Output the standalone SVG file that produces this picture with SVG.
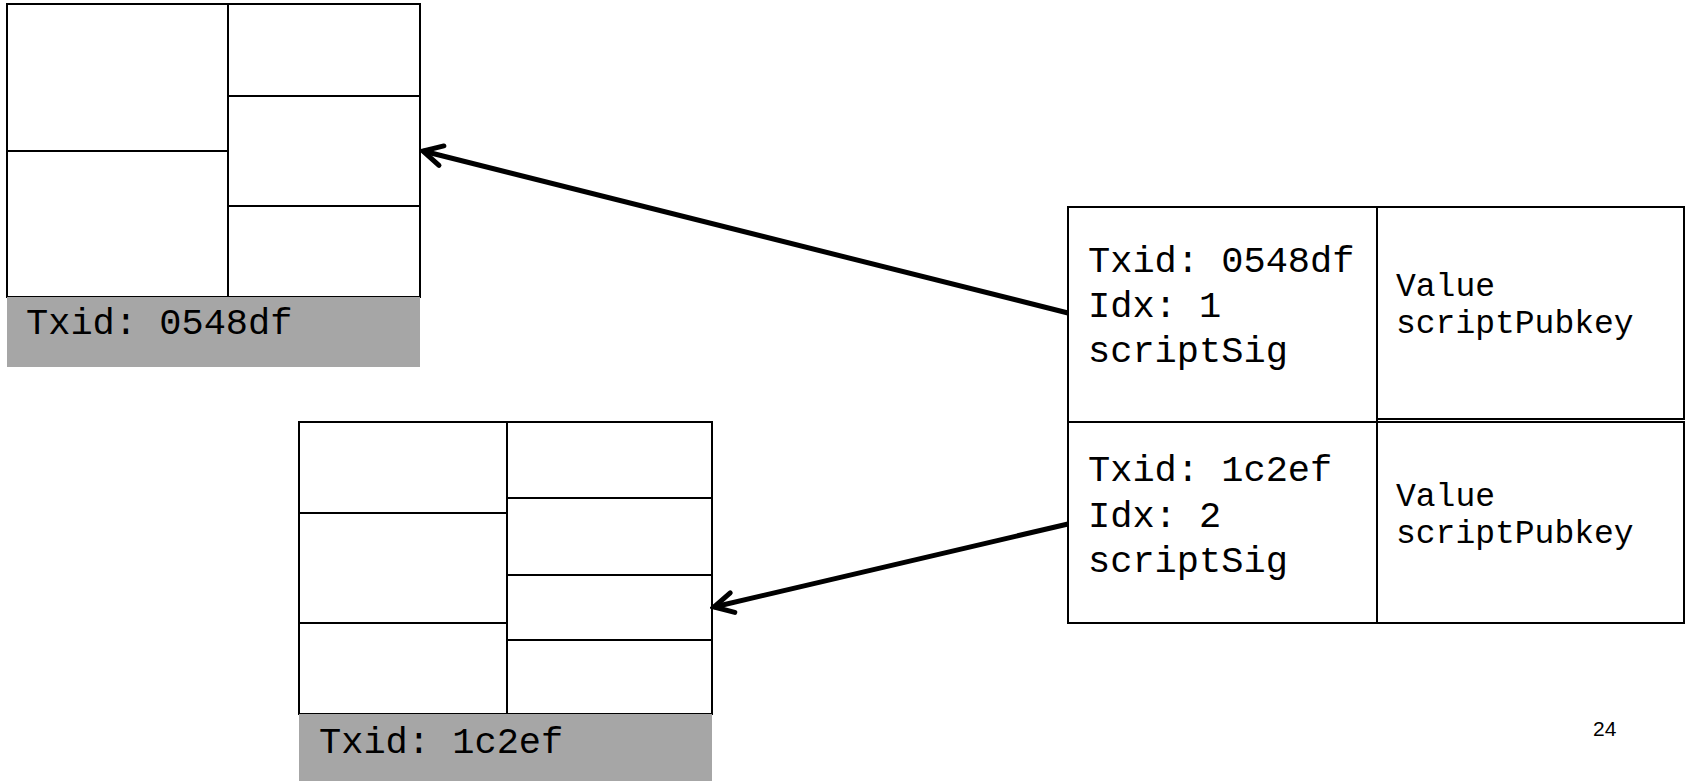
<svg xmlns="http://www.w3.org/2000/svg" width="1688" height="781" viewBox="0 0 1688 781">
  <style>
    .cell { fill: #ffffff; stroke: #000000; stroke-width: 2; }
    .rule { stroke: #000000; stroke-width: 2; fill: none; }
    .band { fill: #a6a6a6; stroke: none; }
    .mono { font-family: "Liberation Mono", "Courier New", monospace; fill: #000000; }
    .big { font-size: 37px; }
    .small { font-size: 33px; }
    .page { font-family: "Liberation Sans", Arial, sans-serif; font-size: 21px; fill: #000000; }
    .link { stroke: #000000; stroke-width: 5; fill: none; }
  </style>
  <defs>
    <marker id="open-arrow" markerUnits="userSpaceOnUse" viewBox="-26 -16 30 32" markerWidth="30" markerHeight="32" refX="0" refY="0" orient="auto">
      <path d="M-19,-10 L0,0 L-19,10" fill="none" stroke="#000000" stroke-width="5" stroke-linejoin="miter" stroke-linecap="round"/>
    </marker>
  </defs>

  <rect width="1688" height="781" fill="#ffffff"/>

  <!-- Transaction 0548df (upper left) -->
  <g id="tx-0548df">
    <rect class="cell" x="7" y="4" width="413" height="293"/>
    <line class="rule" x1="228" y1="4" x2="228" y2="297"/>
    <line class="rule" x1="7" y1="151" x2="228" y2="151"/>
    <line class="rule" x1="228" y1="96" x2="420" y2="96"/>
    <line class="rule" x1="228" y1="206" x2="420" y2="206"/>
    <rect class="band" x="7" y="297" width="413" height="70"/>
    <text class="mono big" x="26" y="334">Txid: 0548df</text>
  </g>

  <!-- Transaction 1c2ef (lower left) -->
  <g id="tx-1c2ef">
    <rect class="cell" x="299" y="422" width="413" height="292"/>
    <line class="rule" x1="507" y1="422" x2="507" y2="714"/>
    <line class="rule" x1="299" y1="513" x2="507" y2="513"/>
    <line class="rule" x1="299" y1="623" x2="507" y2="623"/>
    <line class="rule" x1="507" y1="498" x2="712" y2="498"/>
    <line class="rule" x1="507" y1="575" x2="712" y2="575"/>
    <line class="rule" x1="507" y1="640" x2="712" y2="640"/>
    <rect class="band" x="299" y="714" width="413" height="67"/>
    <text class="mono big" x="319" y="753">Txid: 1c2ef</text>
  </g>

  <!-- Spending transaction: inputs and outputs -->
  <g id="tx-spend">
    <g id="input-1">
      <rect class="cell" x="1068" y="207" width="309" height="215"/>
      <text class="mono big" x="1088" y="272">Txid: 0548df</text>
      <text class="mono big" x="1088" y="317">Idx: 1</text>
      <text class="mono big" x="1088" y="362">scriptSig</text>
    </g>
    <g id="output-1">
      <rect class="cell" x="1377" y="207" width="307" height="212"/>
      <text class="mono small" x="1396" y="296">Value</text>
      <text class="mono small" x="1396" y="333">scriptPubkey</text>
    </g>
    <g id="input-2">
      <rect class="cell" x="1068" y="422" width="309" height="201"/>
      <text class="mono big" x="1088" y="481">Txid: 1c2ef</text>
      <text class="mono big" x="1088" y="527">Idx: 2</text>
      <text class="mono big" x="1088" y="572">scriptSig</text>
    </g>
    <g id="output-2">
      <rect class="cell" x="1377" y="422" width="307" height="201"/>
      <text class="mono small" x="1396" y="506">Value</text>
      <text class="mono small" x="1396" y="543">scriptPubkey</text>
    </g>
  </g>

  <!-- Input references back to previous transactions -->
  <g id="connectors">
    <line class="link" x1="1068" y1="313" x2="423" y2="151" marker-end="url(#open-arrow)"/>
    <line class="link" x1="1068" y1="524" x2="714" y2="607" marker-end="url(#open-arrow)"/>
  </g>

  <text class="page" x="1593" y="736">24</text>
</svg>
